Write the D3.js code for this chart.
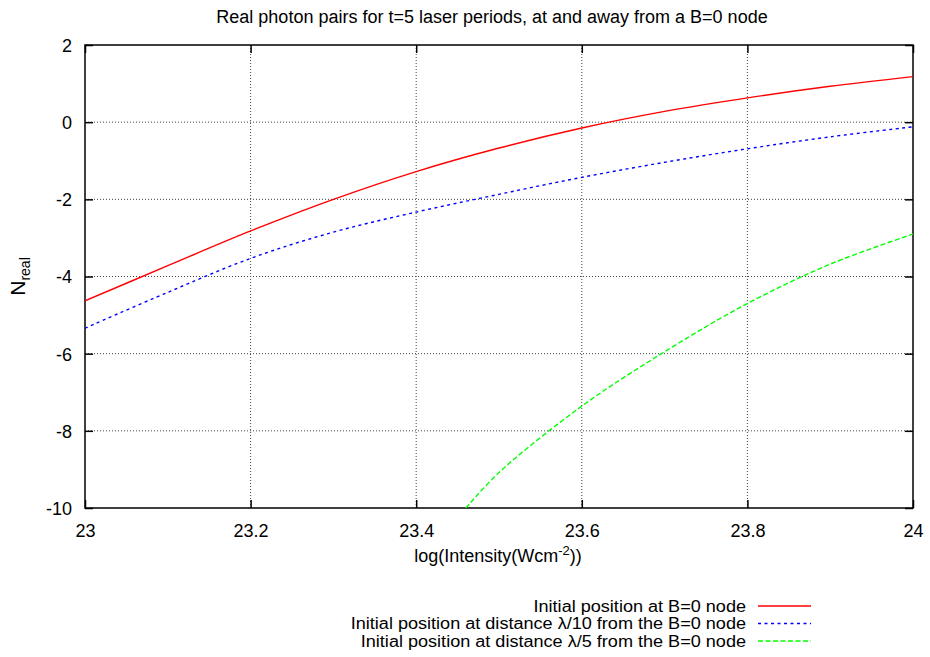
<!DOCTYPE html>
<html>
<head>
<meta charset="utf-8">
<script src="https://cdn.jsdelivr.net/npm/d3@7"></script>
<style>
  html, body { margin: 0; padding: 0; background: #fff; }
  svg { display: block; font-family: "Liberation Sans", Arial, sans-serif; }
</style>
</head>
<body>
<svg id="chart" width="930" height="657"></svg>
<script>
// Intensity grid (log10 of W/cm^2)
const logIntensity = [23.0, 23.1, 23.2, 23.3, 23.4, 23.5, 23.6, 23.7, 23.8, 23.9, 24.0];

// Real pair yield (log scale) starting at the B=0 node
const atNode = [-4.63, -3.72, -2.82, -2.00, -1.28, -0.67, -0.15, 0.28, 0.63, 0.93, 1.18];

// Starting lambda/10 away from the node
const lambda10 = [-5.34, -4.41, -3.53, -2.85, -2.33, -1.87, -1.43, -1.04, -0.69, -0.38, -0.12];

// Starting lambda/5 away from the node (enters the window near 23.46)
const lambda5X = [23.46, 23.5, 23.6, 23.7, 23.8, 23.9, 24.0];
const lambda5 = [-10.0, -9.08, -7.36, -5.95, -4.70, -3.68, -2.90];

const xTicks = [23, 23.2, 23.4, 23.6, 23.8, 24];
const yTicks = [2, 0, -2, -4, -6, -8, -10];

const seriesNames = [
  "Initial position at B=0 node",
  "Initial position at distance \u03bb/10 from the B=0 node",
  "Initial position at distance \u03bb/5 from the B=0 node"
];
const seriesColors = ["#ff0000", "#0000ff", "#00ff00"];
const seriesDash = [null, "3,3.5", "5,2.5"];

const svg = d3.select("#chart");
const pL = 85, pR = 913, pT = 45, pB = 508;

const x = d3.scaleLinear().domain([23, 24]).range([pL, pR]);
const y = d3.scaleLinear().domain([-10, 2]).range([pB, pT]);

// Title
svg.append("text")
  .attr("x", 492).attr("y", 23)
  .attr("text-anchor", "middle")
  .style("font-size", "18px")
  .text("Real photon pairs for t=5 laser periods, at and away from a B=0 node");

// Grid lines
const grid = svg.append("g").attr("stroke", "#444").attr("stroke-width", 1)
  .attr("stroke-dasharray", "1,2");
xTicks.slice(1, -1).forEach(t => {
  grid.append("line").attr("x1", x(t)).attr("x2", x(t)).attr("y1", pT).attr("y2", pB);
});
yTicks.slice(1, -1).forEach(t => {
  grid.append("line").attr("x1", pL).attr("x2", pR).attr("y1", y(t)).attr("y2", y(t));
});

// Axes with inward ticks (mirrored on top and right)
const tickLen = 8;
const axB = svg.append("g").attr("transform", `translate(0,${pB})`)
  .call(d3.axisBottom(x).tickValues(xTicks).tickSize(-tickLen).tickPadding(13)
    .tickFormat(d => String(+d.toFixed(1))));
const axT = svg.append("g").attr("transform", `translate(0,${pT})`)
  .call(d3.axisTop(x).tickValues(xTicks).tickSize(-tickLen).tickFormat(""));
const axL = svg.append("g").attr("transform", `translate(${pL},0)`)
  .call(d3.axisLeft(y).tickValues(yTicks).tickSize(-tickLen).tickPadding(13)
    .tickFormat(d => String(d)));
const axR = svg.append("g").attr("transform", `translate(${pR},0)`)
  .call(d3.axisRight(y).tickValues(yTicks).tickSize(-tickLen).tickFormat(""));
[axB, axT, axL, axR].forEach(a => {
  a.select(".domain").remove();
  a.selectAll(".tick line").attr("stroke", "#000").attr("stroke-width", 1.5);
  a.selectAll("text").attr("fill", "#000").style("font-size", "18px");
  a.attr("font-family", null);
});
axL.selectAll("text").attr("dy", "0.36em");
axB.selectAll("text").attr("dy", "0.9em");

// Plot frame
svg.append("rect")
  .attr("x", pL).attr("y", pT)
  .attr("width", pR - pL).attr("height", pB - pT)
  .attr("fill", "none").attr("stroke", "#000").attr("stroke-width", 1.5);

// Curves
svg.append("clipPath").attr("id", "plot-clip")
  .append("rect").attr("x", pL).attr("y", pT)
  .attr("width", pR - pL).attr("height", pB - pT);

const line = d3.line().x(d => x(d[0])).y(d => y(d[1])).curve(d3.curveCatmullRom.alpha(0.5));
const curves = [
  logIntensity.map((v, i) => [v, atNode[i]]),
  logIntensity.map((v, i) => [v, lambda10[i]]),
  lambda5X.map((v, i) => [v, lambda5[i]])
];
const plot = svg.append("g").attr("clip-path", "url(#plot-clip)");
curves.forEach((c, i) => {
  plot.append("path").datum(c)
    .attr("d", line)
    .attr("fill", "none")
    .attr("stroke", seriesColors[i])
    .attr("stroke-width", 1.4)
    .attr("stroke-dasharray", seriesDash[i]);
});

// Axis titles
const xl = svg.append("text").attr("x", 498).attr("y", 562)
  .attr("text-anchor", "middle").style("font-size", "18px");
xl.append("tspan").text("log(Intensity(Wcm");
xl.append("tspan").attr("dy", -7).style("font-size", "13px").text("-2");
xl.append("tspan").attr("dy", 7).text("))");

const yl = svg.append("text")
  .attr("transform", `translate(25,${(pT + pB) / 2}) rotate(-90)`)
  .attr("text-anchor", "middle");
yl.append("tspan").style("font-size", "21px").text("N");
yl.append("tspan").attr("dy", 5).style("font-size", "14px").text("real");

// Legend (text slightly widened, right-aligned against the sample lines)
const legend = svg.append("g");
seriesNames.forEach((name, i) => {
  const ly = 606 + i * 17.5;
  legend.append("text")
    .attr("transform", `translate(746,${ly}) scale(1.13,1)`)
    .attr("dy", "0.35em")
    .attr("text-anchor", "end").style("font-size", "16px").text(name);
  legend.append("line").attr("x1", 758).attr("x2", 811).attr("y1", ly).attr("y2", ly)
    .attr("stroke", seriesColors[i]).attr("stroke-width", 1.4)
    .attr("stroke-dasharray", seriesDash[i]);
});
</script>
</body>
</html>
